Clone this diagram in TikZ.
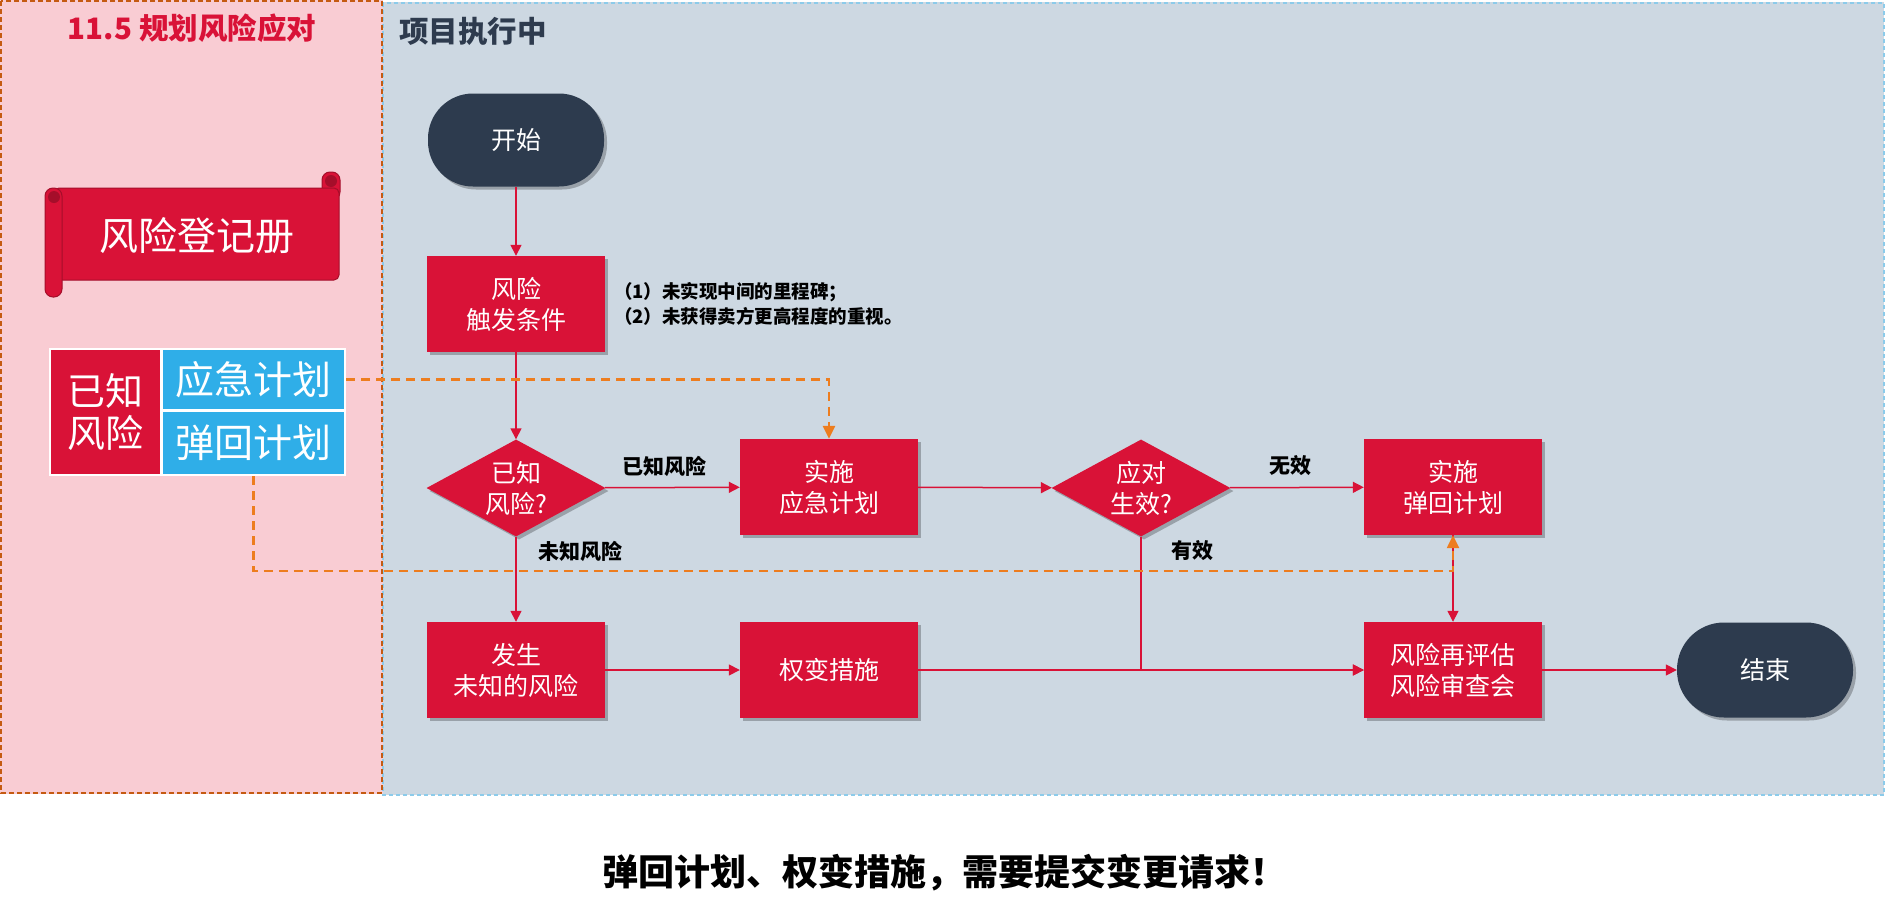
\documentclass[tikz,border=0pt]{standalone}
\usepackage{fontspec}
\setmainfont{Noto Sans CJK SC}
\usetikzlibrary{shapes.geometric,arrows.meta,shadows}
\definecolor{crim}{HTML}{D91237}
\definecolor{crimdark}{HTML}{A50E2A}
\definecolor{navy}{HTML}{2D3B4E}
\definecolor{pinkp}{HTML}{F9CCD3}
\definecolor{bluep}{HTML}{CDD8E2}
\definecolor{brownb}{HTML}{C55A11}
\definecolor{bluebd}{HTML}{8CCBEA}
\definecolor{cellblue}{HTML}{2FAEE8}
\definecolor{orangec}{HTML}{ED7D1F}
\definecolor{titlegray}{HTML}{2E3B4E}
\tikzset{
  shad/.style={drop shadow={shadow xshift=3pt,shadow yshift=-3pt,opacity=0.25,fill=black}},
  redbox/.style={rectangle,fill=crim,text=white,minimum width=178pt,minimum height=96pt,inner sep=0pt,align=center,font=\fontsize{25}{31}\selectfont,shad},
  dia/.style={diamond,aspect=1.83,fill=crim,text=white,minimum width=179pt,minimum height=97pt,inner sep=0pt,align=center,font=\fontsize{25}{31}\selectfont,shad},
  term/.style={rectangle,rounded corners=45pt,fill=navy,text=white,minimum width=176pt,minimum height=93pt,inner sep=0pt,font=\fontsize{25}{31}\selectfont,shad},
  lbl/.style={font=\fontsize{21}{25}\selectfont\bfseries,text=black,inner sep=0pt},
  ln/.style={draw=crim,line width=1.5pt,-{Triangle[length=11pt,width=11pt]}},
  od/.style={draw=orangec,line width=2.5pt,dash pattern=on 9pt off 6pt,-{Triangle[length=13pt,width=12pt]}},
  cellr/.style={rectangle,fill=crim,draw=white,line width=2.5pt,text=white,align=center,inner sep=0pt,font=\fontsize{38}{42}\selectfont},
  cellb/.style={rectangle,fill=cellblue,draw=white,line width=2.5pt,text=white,align=center,inner sep=0pt,font=\fontsize{39}{44}\selectfont}
}
\begin{document}
\begin{tikzpicture}[x=1pt,y=-1pt]
\useasboundingbox (0,0) rectangle (1886,918);
\fill[white] (0,0) rectangle (1886,918);
% panels
\fill[pinkp] (0,0) rectangle (383,794);
\fill[bluep] (383,2) rectangle (1884,795);
\draw[bluebd,line width=2pt,dash pattern=on 4pt off 3pt] (383,3) rectangle (1884,795);
\draw[brownb,line width=2pt,dash pattern=on 5pt off 3pt] (1,1) rectangle (382,793);
\node[font=\fontsize{29.5}{33}\selectfont\bfseries,text=crim,inner sep=0pt] (t1) at (192,28) {11.5 规划风险应对};
\node[font=\fontsize{29.5}{33}\selectfont\bfseries,text=titlegray,inner sep=0pt,anchor=west] (t2) at (399,31) {项目执行中};
% scroll
\fill[crim,draw=crimdark,line width=1pt,rounded corners=8pt] (322,172) rectangle (340,200);
\fill[crim,draw=crimdark,line width=1pt,rounded corners=5pt] (54,188) rectangle (339,280);
\fill[crim,draw=crimdark,line width=1pt,rounded corners=8pt] (45,188) rectangle (62,297);
\fill[crimdark] (54,197) circle (6pt);
\fill[crimdark] (331,181) circle (6pt);
\node[text=white,font=\fontsize{39}{44}\selectfont,inner sep=0pt] (reg) at (197,236) {风险登记册};
% table
\node[cellr,minimum width=111pt,minimum height=126pt] (kr) at (105.5,412) {已知\\风险};
\node[cellb,minimum width=183pt,minimum height=61pt] (c1) at (253.5,379.5) {应急计划};
\node[cellb,minimum width=183pt,minimum height=64pt] (c2) at (253.5,443) {弹回计划};
% flow nodes
\node[term] (start) at (516,140) {开始};
\node[redbox] (trig) at (516,304) {风险\\触发条件};
\node[font=\fontsize{18.5}{25}\selectfont\bfseries,align=left,anchor=west,inner sep=0pt] (note) at (614,304) {（1）未实现中间的里程碑；\\（2）未获得卖方更高程度的重视。};
\node[dia] (known) at (516,488) {已知\\风险?};
\node[redbox] (plan1) at (829,487) {实施\\应急计划};
\node[dia] (eff) at (1141,488) {应对\\生效?};
\node[redbox] (plan2) at (1453,487) {实施\\弹回计划};
\node[redbox] (unk) at (516,670) {发生\\未知的风险};
\node[redbox] (adapt) at (829,670) {权变措施};
\node[redbox] (review) at (1453,670) {风险再评估\\风险审查会};
\node[term,minimum height=95pt,rounded corners=47pt] (finish) at (1765,670) {结束};
% labels
\node[lbl] (l1) at (664,466) {已知风险};
\node[lbl] (l2) at (580,551) {未知风险};
\node[lbl] (l3) at (1290,466) {无效};
\node[lbl] (l4) at (1192,551) {有效};
% connectors
\draw[ln] (start) -- (trig);
\draw[ln] (trig) -- (known);
\draw[ln] (known) -- (plan1);
\draw[ln] (known) -- (unk);
\draw[ln] (plan1) -- (eff);
\draw[ln] (eff) -- (plan2);
\draw[ln] (unk) -- (adapt);
\draw[ln] (adapt) -- (review);
\draw[ln] (eff.south) |- (review.west);
\draw[ln] (plan2) -- (review);
\draw[ln] (review) -- (finish);
\coordinate (ob) at (253.5,571);
\draw[od] (c1.east) -| (plan1.north);
\draw[od] (c2.south) -- (ob) -| (plan2.south);
% bottom note
\node[font=\fontsize{36}{40}\selectfont\bfseries,inner sep=0pt] (foot) at (944,873) {弹回计划、权变措施，需要提交变更请求！};
\end{tikzpicture}
\end{document}
